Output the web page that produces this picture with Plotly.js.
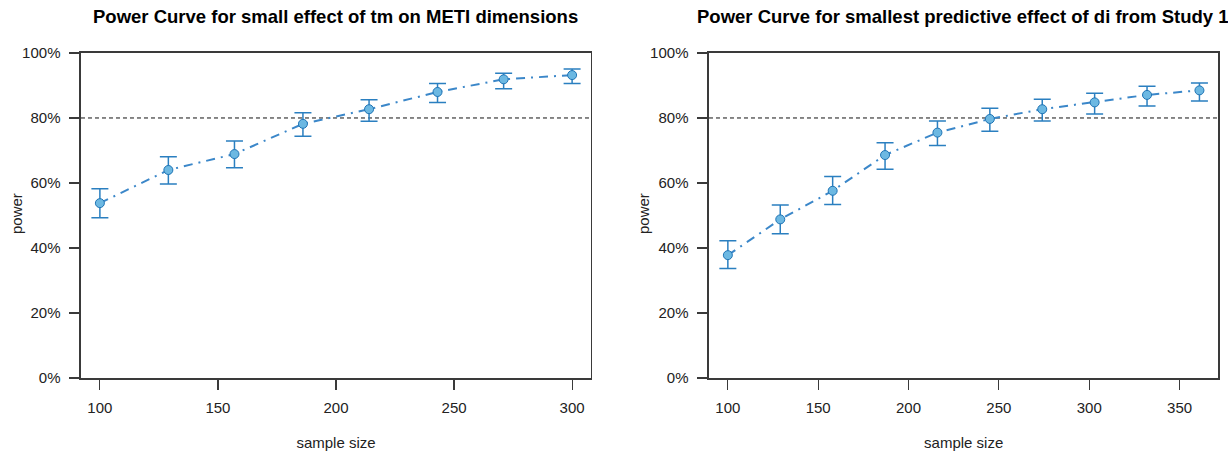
<!DOCTYPE html>
<html>
<head>
<meta charset="utf-8">
<script src="https://cdn.plot.ly/plotly-3.0.1.min.js"></script>
<style>
html,body{margin:0;padding:0;background:#fff;}
#chart{width:1228px;height:454px;}
</style>
</head>
<body>
<div id="chart"></div>
<script>
// Left chart: small effect of tm on METI dimensions
const sampleSize1 = [100, 129, 157, 186, 214, 243, 271, 300];
const power1 = [0.538, 0.640, 0.689, 0.782, 0.827, 0.880, 0.919, 0.932];
const upper1 = [0.582, 0.681, 0.729, 0.816, 0.856, 0.906, 0.938, 0.951];
const lower1 = [0.493, 0.597, 0.647, 0.744, 0.790, 0.848, 0.890, 0.906];

// Right chart: smallest predictive effect of di from Study 1
const sampleSize2 = [100, 129, 158, 187, 216, 245, 274, 303, 332, 361];
const power2 = [0.378, 0.488, 0.576, 0.686, 0.755, 0.797, 0.827, 0.848, 0.871, 0.885];
const upper2 = [0.422, 0.532, 0.620, 0.724, 0.791, 0.830, 0.858, 0.876, 0.898, 0.908];
const lower2 = [0.337, 0.444, 0.534, 0.642, 0.715, 0.759, 0.791, 0.812, 0.837, 0.852];

const targetPower = 0.8;
const title1 = "Power Curve for small effect of tm on METI dimensions";
const title2 = "Power Curve for smallest predictive effect of di from Study 1";
const yTitle = "power";
const xTitle = "sample size";
const yTickVals = [0, 0.2, 0.4, 0.6, 0.8, 1.0];
const yTickText = ["0%", "20%", "40%", "60%", "80%", "100%"];
const xTicks1 = [100, 150, 200, 250, 300];
const xTicks2 = [100, 150, 200, 250, 300, 350];

const FONT = "Liberation Sans, Arial, Helvetica, sans-serif";
const lineColor = "#3b87c9";
const barColor = "#2a7fc0";
const markerFill = "#6cb8e2";
const markerEdge = "#1f74b5";

function diff(a, b) { return a.map((v, i) => v - b[i]); }

function trace(x, y, up, lo, xa, ya) {
  return {
    type: "scatter", mode: "lines+markers",
    x: x, y: y, xaxis: xa, yaxis: ya,
    line: {color: lineColor, width: 2, dash: "9px,6px,2px,6px"},
    marker: {symbol: "circle", size: 9, color: markerFill, line: {color: markerEdge, width: 1}},
    error_y: {type: "data", symmetric: false, array: diff(up, y), arrayminus: diff(y, lo),
              color: barColor, thickness: 1.5, width: 8.5},
    hoverinfo: "x+y", showlegend: false
  };
}

const data = [
  trace(sampleSize1, power1, upper1, lower1, "x", "y"),
  trace(sampleSize2, power2, upper2, lower2, "x2", "y2")
];

function xax(domain, range, ticks) {
  return {
    domain: domain, range: range, tickvals: ticks, ticktext: ticks.map(String),
    showgrid: false, zeroline: false, showline: true, mirror: true,
    linecolor: "#3a3a3a", linewidth: 1.5, ticks: "outside", ticklen: 10, tickwidth: 1.2, tickcolor: "#3a3a3a",
    tickfont: {family: FONT, size: 15, color: "#222"}, ticklabelstandoff: 5,
    title: {text: xTitle, font: {family: FONT, size: 15, color: "#222"}, standoff: 23},
    fixedrange: true
  };
}
function yax(anchor) {
  return {
    domain: [0.1674, 0.8833], range: [0, 1], anchor: anchor,
    tickvals: yTickVals, ticktext: yTickText,
    showgrid: false, zeroline: false, showline: true, mirror: true,
    linecolor: "#3a3a3a", linewidth: 1.5, ticks: "outside", ticklen: 10, tickwidth: 1.2, tickcolor: "#3a3a3a",
    tickfont: {family: FONT, size: 15, color: "#222"}, ticklabelstandoff: 6,
    fixedrange: true
  };
}

const xa1 = xax([0.06596, 0.48127], [92, 308], xTicks1); xa1.anchor = "y";
const xa2 = xax([0.57736, 0.99210], [89.56, 371.44], xTicks2); xa2.anchor = "y2";

function yTitleAnn(px) {
  return {text: yTitle, textangle: -90, xref: "paper", yref: "paper", x: px / 1228, y: 1 - 214 / 454,
          xanchor: "center", yanchor: "middle", showarrow: false,
          font: {family: FONT, size: 15, color: "#222"}};
}

const layout = {
  width: 1228, height: 454,
  margin: {l: 0, r: 0, t: 0, b: 0},
  paper_bgcolor: "#fff", plot_bgcolor: "#fff",
  font: {family: FONT, color: "#222"},
  xaxis: xa1, yaxis: yax("x"),
  xaxis2: xa2, yaxis2: yax("x2"),
  shapes: [
    {type: "line", xref: "x domain", yref: "y", x0: 0, x1: 1, y0: targetPower, y1: targetPower,
     line: {color: "#111", width: 1, dash: "4px,3px"}, layer: "below"},
    {type: "line", xref: "x2 domain", yref: "y2", x0: 0, x1: 1, y0: targetPower, y1: targetPower,
     line: {color: "#111", width: 1, dash: "4px,3px"}, layer: "below"}
  ],
  annotations: [
    {text: "<b>" + title1 + "</b>", xref: "paper", yref: "paper", x: 0.2736, y: 1 - 17/454,
     xanchor: "center", yanchor: "middle", showarrow: false,
     font: {family: FONT, size: 18.5, color: "#000"}},
    {text: "<b>" + title2 + "</b>", xref: "paper", yref: "paper", x: 0.7846, y: 1 - 17/454,
     xanchor: "center", yanchor: "middle", showarrow: false,
     font: {family: FONT, size: 18.5, color: "#000"}},
    yTitleAnn(16),
    yTitleAnn(643)
  ]
};

Plotly.newPlot("chart", data, layout, {displayModeBar: false, staticPlot: true});
</script>
</body>
</html>
